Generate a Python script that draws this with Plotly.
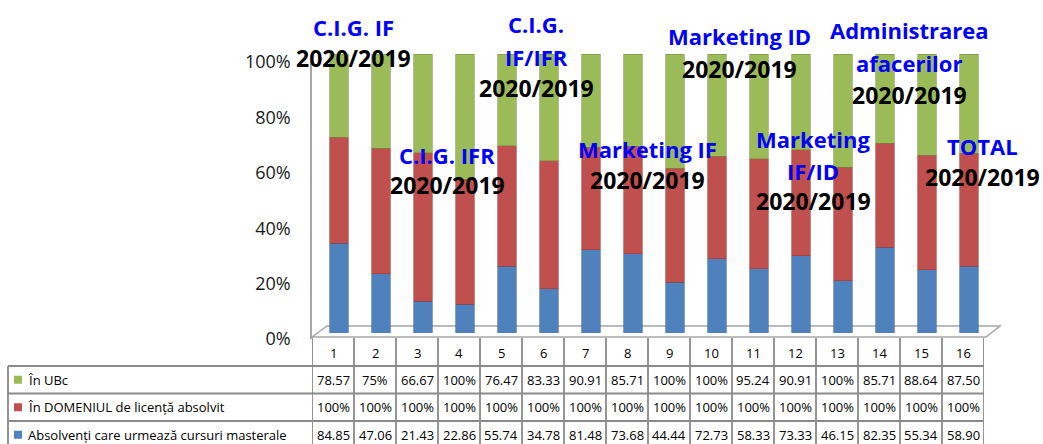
import plotly.graph_objects as go

W, H = 1043, 444

categories = list(range(1, 17))
cat_labels = [str(c) for c in categories]

series_names = ["Absolvenți care urmează cursuri masterale",
                "În DOMENIUL de licență absolvit",
                "În UBc"]
masterale = [84.85, 47.06, 21.43, 22.86, 55.74, 34.78, 81.48, 73.68,
             44.44, 72.73, 58.33, 73.33, 46.15, 82.35, 55.34, 58.90]
domeniu = [100] * 16
ubc = [78.57, 75, 66.67, 100, 76.47, 83.33, 90.91, 85.71,
       100, 100, 95.24, 90.91, 100, 85.71, 88.64, 87.50]
colors = ["#4F81BD", "#C0504D", "#9BBB59"]
edge_colors = ["#3A6394", "#983B39", "#7A9544"]

y_tickvals = [0, 20, 40, 60, 80, 100]

# overlay texts: (lines, x_px, list of y_px)
overlay = [
    (["C.I.G. IF", "2020/2019"], 353, [27, 58]),
    (["C.I.G. IFR", "2020/2019"], 447, [155, 185]),
    (["C.I.G.", "IF/IFR", "2020/2019"], 536, [24, 57, 88]),
    (["Marketing IF", "2020/2019"], 647, [149, 180]),
    (["Marketing ID", "2020/2019"], 739, [36, 69]),
    (["Marketing", "IF/ID", "2020/2019"], 813, [139, 171, 201]),
    (["Administrarea", "afacerilor", "2020/2019"], 909, [30, 63, 95]),
    (["TOTAL", "2020/2019"], 982, [146, 177]),
]


def fx(p):
    return p / W


def fy(p):
    return 1 - p / H


def fmt(v):
    return f"{v:g}%" if float(v).is_integer() else f"{v:.2f}"


FONT = "Open Sans"
fig = go.Figure()

for name, vals, c, ec in zip(series_names, [masterale, domeniu, ubc], colors, edge_colors):
    fig.add_trace(go.Bar(
        x=categories, y=vals, name=name, xaxis="x2", yaxis="y2",
        marker=dict(color=c, line=dict(color=ec, width=0.6)),
        showlegend=False, hoverinfo="name+y",
    ))

shapes = []
annotations = []

# floor of the 3D plot
shapes.append(dict(type="path", xref="paper", yref="paper",
                   path=f"M {fx(312)},{fy(337)} L {fx(327)},{fy(326)} L {fx(1000)},{fy(326)} L {fx(986)},{fy(337)} Z",
                   line=dict(color="#A6A6A6", width=1.5), fillcolor="rgba(255,255,255,0)", layer="below"))

# table geometry
tbl_left, col_left, col_w = 8, 312, 42
header_top, row_tops = 338, [366, 393.5, 421, 448.5]
line_style = dict(color="#8A8A8A", width=1.8)

for i in range(len(categories) + 1):
    shapes.append(dict(type="line", xref="x", yref="paper",
                       x0=i + 0.5, x1=i + 0.5, y0=fy(header_top), y1=fy(H + 10), line=line_style))
shapes.append(dict(type="line", xref="paper", yref="paper",
                   x0=fx(tbl_left), x1=fx(tbl_left), y0=fy(row_tops[0]), y1=fy(H + 10), line=line_style))
for r in row_tops:
    shapes.append(dict(type="line", xref="paper", yref="paper",
                       x0=fx(tbl_left), x1=fx(col_left + 16 * col_w), y0=fy(r), y1=fy(r), line=line_style))

ann_common = dict(showarrow=False, xanchor="center", yanchor="middle")

# header numbers
for c, lab in zip(categories, cat_labels):
    annotations.append(dict(x=c, y=fy((header_top + row_tops[0]) / 2 + 1), xref="x", yref="paper",
                            text=lab, font=dict(family=FONT, size=13, color="#000"), **ann_common))

# table rows: top row green, then red, then blue
rows = [(series_names[2], ubc, colors[2]),
        (series_names[1], domeniu, colors[1]),
        (series_names[0], masterale, colors[0])]
for k, (name, vals, c) in enumerate(rows):
    yc = (row_tops[k] + row_tops[k + 1]) / 2
    shapes.append(dict(type="rect", xref="paper", yref="paper",
                       x0=fx(14), x1=fx(22), y0=fy(yc - 4), y1=fy(yc + 4),
                       fillcolor=c, line=dict(width=0)))
    annotations.append(dict(x=fx(26), y=fy(yc), xref="paper", yref="paper", xanchor="left",
                            yanchor="middle", showarrow=False,
                            text=name, font=dict(family=FONT, size=13, color="#000")))
    for cat, v in zip(categories, vals):
        annotations.append(dict(x=cat, y=fy(yc), xref="x", yref="paper",
                                text=fmt(v), font=dict(family=FONT, size=13, color="#000"), **ann_common))

# overlay labels
for lines, xp, ys in overlay:
    for j, (t, yp) in enumerate(zip(lines, ys)):
        is_year = (j == len(lines) - 1)
        annotations.append(dict(x=fx(xp), y=fy(yp), xref="paper", yref="paper",
                                text=f"<b>{t}</b>",
                                font=dict(family=FONT, size=23 if is_year else 22,
                                          color="#000000" if is_year else "#0000FF"),
                                **ann_common))

fig.update_layout(
    width=W, height=H, margin=dict(l=0, r=0, t=0, b=0, autoexpand=False),
    paper_bgcolor="white", plot_bgcolor="rgba(0,0,0,0)",
    barmode="stack", barnorm="percent", bargap=0.57,
    xaxis=dict(domain=[fx(col_left), fx(col_left + 16 * col_w)], range=[0.5, 16.5],
               visible=False, anchor="y", fixedrange=True, automargin=False),
    yaxis=dict(domain=[fy(339), fy(62)], range=[0, 100], anchor="x", automargin=False,
               tickvals=y_tickvals, ticktext=[f"{v}%" for v in y_tickvals],
               showline=True, linecolor="#A6A6A6", linewidth=1.5,
               showgrid=False, zeroline=False, ticks="", ticklabelstandoff=16,
               tickfont=dict(family=FONT, size=18, color="#1A1A1A")),
    xaxis2=dict(domain=[fx(318), fx(318 + 16 * col_w)], range=[0.5, 16.5],
                visible=False, anchor="y2", automargin=False),
    yaxis2=dict(domain=[fy(333), fy(54)], range=[0, 100], visible=False, anchor="x2",
                automargin=False),
    shapes=shapes, annotations=annotations,
)

fig.write_html("out.html", config={"displayModeBar": False},
               post_script="document.body.style.margin='0';document.body.style.overflow='hidden';")
